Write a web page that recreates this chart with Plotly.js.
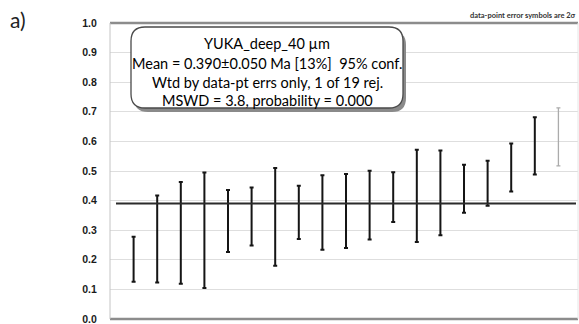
<!DOCTYPE html>
<html>
<head>
<meta charset="utf-8">
<script src="https://cdn.plot.ly/plotly-3.0.1.min.js"></script>
<style>
  html, body { margin: 0; padding: 0; background: #fff; }
  #chart { width: 579px; height: 324px; }
</style>
</head>
<body>
<div id="chart"></div>
<script>
// Ranked ages (Ma) with 2-sigma errors, YUKA_deep_40 µm
const spotRank = [1, 2, 3, 4, 5, 6, 7, 8, 9, 10, 11, 12, 13, 14, 15, 16, 17, 18, 19];
const spotAge = [0.202, 0.270, 0.291, 0.300, 0.331, 0.346, 0.345, 0.360, 0.360, 0.365,
                 0.385, 0.412, 0.416, 0.426, 0.440, 0.459, 0.512, 0.585, 0.615];
const spotErr2s = [0.076, 0.147, 0.172, 0.195, 0.105, 0.098, 0.165, 0.090, 0.126, 0.125,
                   0.116, 0.084, 0.156, 0.143, 0.081, 0.076, 0.081, 0.097, 0.098];
const rejected = [false, false, false, false, false, false, false, false, false, false,
                  false, false, false, false, false, false, false, false, true];

// Weighted-mean statistics
const sampleName = 'YUKA_deep_40 µm';
const meanAge = 0.390;
const meanErr = 0.050;
const meanPct = 13;
const confLevel = 95;
const mswd = 3.8;
const probability = 0.000;

const yTicks = [0.0, 0.1, 0.2, 0.3, 0.4, 0.5, 0.6, 0.7, 0.8, 0.9, 1.0];
const yTickText = yTicks.map(v => v.toFixed(1));

function pick(arr, keep) { return arr.filter((_, i) => keep(i)); }
const isUsed = i => !rejected[i];
const isRej = i => rejected[i];

const usedTrace = {
  type: 'scatter', mode: 'markers',
  x: pick(spotRank, isUsed), y: pick(spotAge, isUsed),
  marker: { size: 1, color: 'rgba(0,0,0,0)' },
  error_y: { type: 'data', array: pick(spotErr2s, isUsed), visible: true,
             color: '#151515', thickness: 2, width: 2 },
  hoverinfo: 'skip', showlegend: false
};
const rejTrace = {
  type: 'scatter', mode: 'markers',
  x: pick(spotRank, isRej), y: pick(spotAge, isRej),
  marker: { size: 1, color: 'rgba(0,0,0,0)' },
  error_y: { type: 'data', array: pick(spotErr2s, isRej), visible: true,
             color: '#ababab', thickness: 1.3, width: 2 },
  hoverinfo: 'skip', showlegend: false
};

const nTotal = spotRank.length;
const nRej = rejected.filter(r => r).length;
const boxLines = [
  sampleName,
  'Mean = ' + meanAge.toFixed(3) + '±' + meanErr.toFixed(3) + ' Ma [' + meanPct + '%]&nbsp;&nbsp;' + confLevel + '% conf.',
  'Wtd by data-pt errs only, ' + nRej + ' of ' + nTotal + ' rej.',
  'MSWD = ' + mswd.toFixed(1) + ', probability = ' + probability.toFixed(3)
];

// Plot-area geometry in pixels
const W = 579, H = 324, L = 110, R = 1, T = 23, B = 5;
const pw = W - L - R, ph = H - T - B;
const px = x => (x - L) / pw;
const py = y => 1 - (y - T) / ph;

// Rounded statistics box (pixel-sized, anchored at its centre)
const boxCx = 267, boxCy = 67.5, hw = 136, hh = 40.5, rad = 14;
function roundRect(dx, dy) {
  const x0 = -hw + dx, x1 = hw + dx, y0 = -hh - dy, y1 = hh - dy;
  return `M${x0 + rad},${y1} L${x1 - rad},${y1} Q${x1},${y1} ${x1},${y1 - rad} ` +
         `L${x1},${y0 + rad} Q${x1},${y0} ${x1 - rad},${y0} L${x0 + rad},${y0} ` +
         `Q${x0},${y0} ${x0},${y0 + rad} L${x0},${y1 - rad} Q${x0},${y1} ${x0 + rad},${y1} Z`;
}
const boxBase = { type: 'path', xref: 'paper', yref: 'paper', xsizemode: 'pixel', ysizemode: 'pixel',
                  xanchor: px(boxCx), yanchor: py(boxCy) };

const shapes = [
  // mean line
  { type: 'line', xref: 'paper', yref: 'y', x0: px(116), x1: px(576), y0: meanAge, y1: meanAge,
    line: { color: '#2b2b2b', width: 2 } },
  // plot-area frame
  { type: 'line', xref: 'paper', yref: 'paper', x0: 0, x1: 1, y0: 1, y1: 1,
    line: { color: '#8c8c8c', width: 2.5 } },
  { type: 'line', xref: 'paper', yref: 'paper', x0: 0, x1: 1, y0: 0, y1: 0,
    line: { color: '#8c8c8c', width: 2.5 } },
  { type: 'line', xref: 'paper', yref: 'paper', x0: 0, x1: 0, y0: 0, y1: 1,
    line: { color: '#c4c4c4', width: 1 } },
  { type: 'line', xref: 'paper', yref: 'paper', x0: 1, x1: 1, y0: 0, y1: 1,
    line: { color: '#e6e6e6', width: 1 } },
  // box shadow and box
  Object.assign({}, boxBase, { path: roundRect(3, 4), fillcolor: '#8a8a8a', line: { width: 0 } }),
  Object.assign({}, boxBase, { path: roundRect(0, 0), fillcolor: '#ffffff', line: { color: '#4a4a4a', width: 1.3 } })
];

const lineY = [43.5, 63.2, 82.3, 100.5];
const annotations = boxLines.map((t, i) => ({
  xref: 'paper', yref: 'paper', x: px(boxCx), y: py(lineY[i]),
  xanchor: 'center', yanchor: 'middle', showarrow: false, text: t,
  font: { family: 'Lato, "Liberation Sans", sans-serif', size: 14.5, color: '#000' }
}));
annotations.push({
  xref: 'paper', yref: 'paper', x: px(578), y: py(15.5), xanchor: 'right', yanchor: 'middle',
  showarrow: false, text: '<b>data-point error symbols are 2σ</b>',
  font: { family: 'Lato, "Liberation Sans", sans-serif', size: 7.5, color: '#333' }
});
annotations.push({
  xref: 'paper', yref: 'paper', x: px(8), y: py(19.5), xanchor: 'left', yanchor: 'middle',
  showarrow: false, text: 'a)',
  font: { family: 'Lato, "Liberation Sans", sans-serif', size: 21, color: '#222' }
});

const layout = {
  width: W, height: H,
  margin: { l: L, r: R, t: T, b: B, pad: 0 },
  paper_bgcolor: '#fff', plot_bgcolor: '#fff',
  showlegend: false,
  xaxis: { range: [0, 19.83], showgrid: false, zeroline: false, showticklabels: false,
           ticks: '', showline: false, fixedrange: true },
  yaxis: { range: [0, 1], tickvals: yTicks, ticktext: yTickText, showgrid: true,
           gridcolor: '#dedede', gridwidth: 1, zeroline: false, showline: false,
           ticks: 'outside', ticklen: 10, tickcolor: 'rgba(0,0,0,0)',
           ticklabeloverflow: 'allow',
           tickfont: { family: '"Liberation Sans", Arial, sans-serif', size: 10.5, color: '#1a1a1a', weight: 'bold' },
           fixedrange: true },
  shapes: shapes,
  annotations: annotations
};

Plotly.newPlot('chart', [usedTrace, rejTrace], layout, { displayModeBar: false, staticPlot: true });
</script>
</body>
</html>
